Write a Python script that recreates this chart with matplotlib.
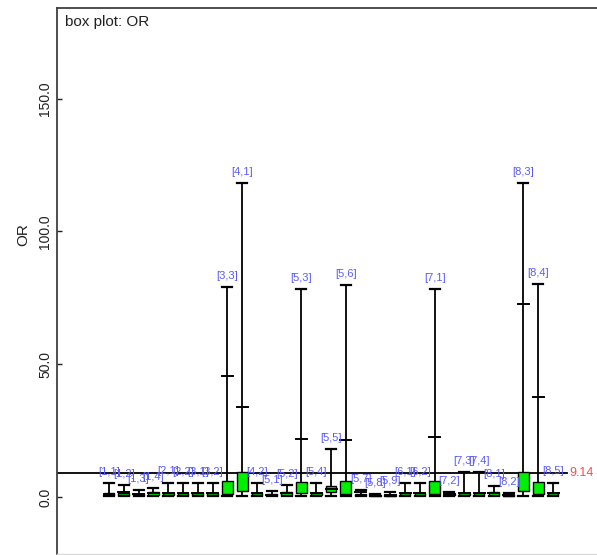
import matplotlib
matplotlib.use("Agg")
import matplotlib.pyplot as plt
from matplotlib.patches import Rectangle

plt.rcParams['font.family'] = ['Liberation Sans', 'DejaVu Sans']

labels = ['[1,1]', '[1,2]', '[1,3]', '[1,4]', '[2,1]', '[2,2]', '[3,1]', '[3,2]',
          '[3,3]', '[4,1]', '[4,2]', '[5,1]', '[5,2]', '[5,3]', '[5,4]', '[5,5]',
          '[5,6]', '[5,7]', '[5,8]', '[5,9]', '[6,1]', '[6,2]', '[7,1]', '[7,2]',
          '[7,3]', '[7,4]', '[8,1]', '[8,2]', '[8,3]', '[8,4]', '[8,5]']
lo = [0.3, 0.3, 0.3, 0.3, 0.3, 0.3, 0.3, 0.3,
      0.3, 0.3, 0.3, 0.3, 0.3, 0.3, 0.3, 0.4,
      0.3, 0.3, 0.2, 0.3, 0.3, 0.3, 0.3, 0.3,
      0.3, 0.3, 0.3, 0.3, 0.3, 0.3, 0.3]
q25 = [0.7, 0.7, 0.6, 0.8, 0.7, 0.7, 0.7, 0.7,
       1.0, 2.4, 0.7, 0.6, 0.8, 1.4, 0.7, 1.8,
       1.1, 0.7, 0.4, 0.5, 0.7, 0.7, 1.1, 0.6,
       0.7, 0.7, 0.8, 0.5, 2.4, 1.0, 0.7]
q75 = [1.3, 1.4, 1.1, 2.0, 1.5, 1.5, 1.5, 1.5,
       6.1, 9.5, 1.5, 1.0, 2.0, 5.8, 1.5, 4.3,
       6.0, 1.2, 0.6, 0.9, 1.5, 1.5, 6.0, 1.0,
       1.5, 1.5, 2.0, 0.8, 9.5, 5.8, 1.5]
hi = [5.2, 4.5, 2.6, 3.4, 5.4, 5.2, 5.2, 5.2,
      79.1, 118.3, 5.2, 2.3, 4.5, 78.2, 5.2, 18.1,
      79.9, 2.6, 1.0, 2.0, 5.2, 5.2, 78.4, 2.0,
      9.5, 9.5, 4.3, 1.5, 118.3, 80.3, 5.4]
mean = [1.2, 2.0, 1.0, 1.5, 1.4, 1.4, 1.4, 1.4,
        45.6, 33.9, 1.4, 0.9, 1.5, 21.9, 1.4, 3.0,
        21.5, 1.9, 0.5, 0.8, 1.4, 1.4, 22.6, 1.2,
        1.4, 1.4, 1.5, 0.9, 72.7, 37.7, 1.4]
overall = 9.14
yticks = [0.0, 50.0, 100.0, 150.0]

W, H = 597, 555
fig = plt.figure(figsize=(W / 100, H / 100), dpi=100)
ax = fig.add_axes([57 / W, 1 / H, (W - 57) / W, (H - 9) / H])

pos = list(range(1, len(labels) + 1))
bw = 0.72
for x, a, b, c, d, m, lab in zip(pos, lo, q25, q75, hi, mean, labels):
    ax.plot([x, x], [a, d], color='black', lw=1.3, zorder=2, solid_capstyle='butt')
    ax.plot([x - 0.34, x + 0.34], [a, a], color='black', lw=1.6, zorder=3)
    ax.plot([x - 0.34, x + 0.34], [d, d], color='black', lw=1.6, zorder=3)
    ax.add_patch(Rectangle((x - bw / 2, b), bw, c - b, facecolor='#00ee00',
                           edgecolor='black', lw=1.0, zorder=4))
    ax.plot([x - 0.37, x + 0.37], [m, m], color='black', lw=1.4, zorder=5)
    ax.annotate(lab, (x, d), xytext=(0, 8), textcoords='offset points',
                ha='center', va='center', fontsize=8, color='#5a5aff', zorder=6)

xl = (-2.514, 33.97)
ax.plot([xl[0], 31.95], [overall, overall], color='black', lw=1.3, zorder=1)
ax.text(32.1, overall, f'{overall:.2f}', color='#ff4a4a', fontsize=9,
        ha='left', va='center')

ax.set_xlim(*xl)
ax.set_ylim(-21.5, 184.2)
ax.set_xticks([])
ax.set_yticks(yticks)
ax.set_yticklabels([f'{v:.1f}' for v in yticks])
ax.tick_params(axis='y', direction='in', length=3.8, width=1.0, pad=3.5,
               labelsize=10, colors='#202020')
plt.setp(ax.get_yticklabels(), rotation=90, va='center')
ax.spines['right'].set_visible(False)
ax.spines['left'].set_color('#404040')
ax.spines['left'].set_linewidth(1.3)
ax.spines['top'].set_color('#404040')
ax.spines['top'].set_linewidth(1.3)
ax.spines['bottom'].set_color('#d8d8d8')
ax.spines['bottom'].set_linewidth(1.0)

fig.text(65 / W, 1 - 22 / H, 'box plot: OR', fontsize=11, color='#202020',
         ha='left', va='center')
fig.text(23 / W, 1 - 235 / H, 'OR', fontsize=11, color='#202020',
         rotation=90, ha='center', va='center')

fig.savefig('out.png', dpi=100)
